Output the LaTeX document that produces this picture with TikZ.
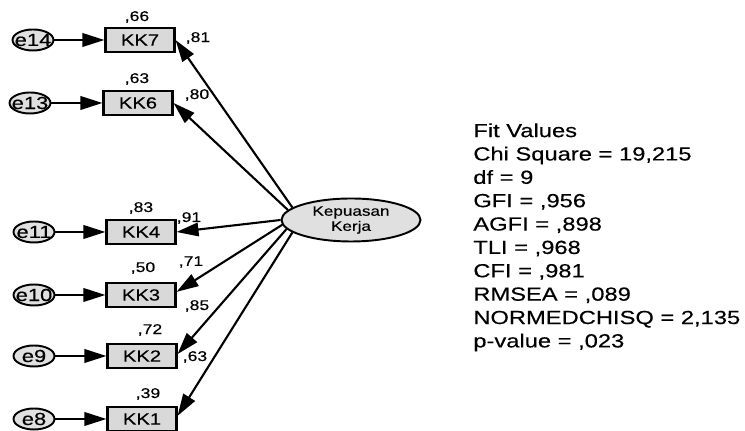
\documentclass[tikz,border=0pt]{standalone}
\usepackage{fontspec}
\setmainfont{Liberation Sans}[FakeStretch=1.25,FakeBold=0.35]
\usepackage{xcolor}
\usepackage{tikz}
\usetikzlibrary{arrows.meta,shapes.geometric}

\begin{document}
\begin{tikzpicture}[x=0.02cm, y=-0.02cm,
  obs/.style={shape=rectangle,draw=black,line width=1.2pt,fill=black!15,minimum width=1.38cm,minimum height=0.47cm,inner sep=0pt,font=\fontsize{9.2}{10}\selectfont},
  err/.style={shape=ellipse,draw=black,line width=1.1pt,fill=black!12,minimum width=0.82cm,minimum height=0.42cm,inner sep=0pt,font=\fontsize{10}{11}\selectfont},
  est/.style={inner sep=0pt,font=\fontsize{8}{9}\selectfont},
  reg/.style={line width=1.2pt,-{Triangle[length=4.4mm,width=2.7mm]}}]
\useasboundingbox (0,0) rectangle (745,431);
\node[obs] (KK7) at (140,40) {KK7};
\node[err] (e14) at (33,40) {\makebox[0pt]{e14}};
\node[obs] (KK6) at (138,103) {KK6};
\node[err] (e13) at (30,103) {\makebox[0pt]{e13}};
\node[obs] (KK4) at (141,232) {KK4};
\node[err] (e11) at (34,232) {\makebox[0pt]{e11}};
\node[obs] (KK3) at (141,295) {KK3};
\node[err] (e10) at (34,295) {\makebox[0pt]{e10}};
\node[obs] (KK2) at (142,356) {KK2};
\node[err] (e9) at (34,356) {\makebox[0pt]{e9}};
\node[obs] (KK1) at (142,419) {KK1};
\node[err] (e8) at (34,419) {\makebox[0pt]{e8}};
\node[shape=ellipse,draw=black,line width=1.1pt,fill=black!12,minimum width=2.78cm,minimum height=0.86cm,inner sep=0pt,align=center,font=\fontsize{7.8}{8.6}\selectfont] (kerja) at (351,220) {Kepuasan\\Kerja};
% squared multiple correlations
\node[est] (r7) at (137,17) {,66};
\node[est] (r6) at (137,79) {,63};
\node[est] (r4) at (141,208) {,83};
\node[est] (r3) at (143,268) {,50};
\node[est] (r2) at (150,330) {,72};
\node[est] (r1) at (148,394) {,39};
% loadings
\node[est] (l7) at (198,38) {,81};
\node[est] (l6) at (197,95) {,80};
\node[est] (l4) at (189,218) {,91};
\node[est] (l3) at (191,262) {,71};
\node[est] (l2) at (197,306) {,85};
\node[est] (l1) at (195,357) {,63};
\path[reg] (e14) edge (KK7);
\path[reg] (e13) edge (KK6);
\path[reg] (e11) edge (KK4);
\path[reg] (e10) edge (KK3);
\path[reg] (e9) edge (KK2);
\path[reg] (e8) edge (KK1);
\path[reg] (kerja.168) edge (KK7.east);
\path[reg] (kerja.171) edge (KK6.east);
\path[reg] (kerja.180) edge (KK4.east);
\path[reg] (kerja.184) edge (KK3.5);
\path[reg] (kerja.188) edge (KK2.3);
\path[reg] (kerja.192) edge (KK1.5);
\node[anchor=north west,inner sep=0pt,align=left,font=\fontsize{10.8}{13.3}\selectfont] (fit) at (473,123) {Fit Values\\Chi Square = 19,215\\df = 9\\GFI = ,956\\AGFI = ,898\\TLI = ,968\\CFI = ,981\\RMSEA = ,089\\NORMEDCHISQ = 2,135\\p-value = ,023};
\end{tikzpicture}
\end{document}
